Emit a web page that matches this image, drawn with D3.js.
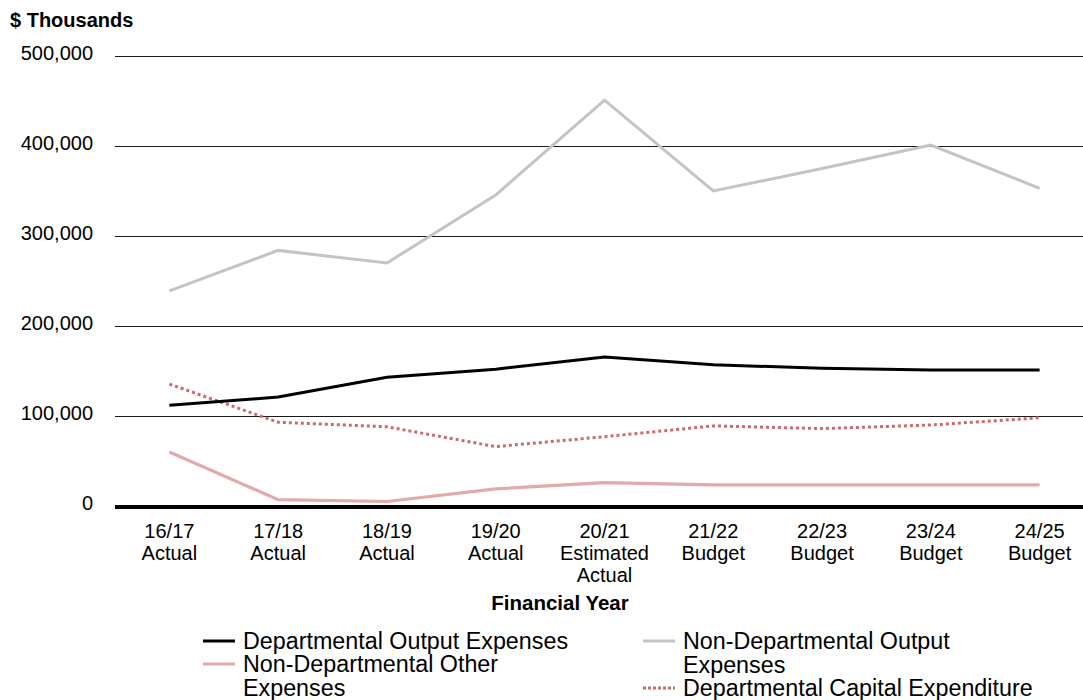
<!DOCTYPE html>
<html><head><meta charset="utf-8">
<script src="https://cdn.jsdelivr.net/npm/d3@7"></script>
<style>
body{margin:0;background:#fff;}
text{font-family:"Liberation Sans",Arial,sans-serif;fill:#000;}
</style></head>
<body><svg id="c" width="1083" height="700"></svg>
<script>
const categories = [["16/17","Actual"],["17/18","Actual"],["18/19","Actual"],["19/20","Actual"],["20/21","Estimated","Actual"],["21/22","Budget"],["22/23","Budget"],["23/24","Budget"],["24/25","Budget"]];
const catKeys = categories.map(c => c[0]);
const deptOutput = [112000,121000,143000,152000,165500,157000,153000,151000,151000];
const nonDeptOutput = [239000,284000,270000,345500,451000,350000,375000,401000,353000];
const nonDeptOther = [60000,7000,5000,19000,26000,23500,23500,23500,23500];
const deptCapital = [135500,93000,88000,66000,77000,89000,86000,90000,98000];
const yTicks = [0,100000,200000,300000,400000,500000];

const svg = d3.select("#c");
const x = d3.scaleBand().domain(catKeys).range([115,1094]);
const xc = k => x(k) + x.bandwidth()/2;
const y = d3.scaleLinear().domain([0,500000]).range([506,56]);

// gridlines
svg.append("g").selectAll("line").data(yTicks.filter(d=>d>0)).join("line")
  .attr("x1",115).attr("x2",1083).attr("y1",d=>Math.round(y(d))+0.5).attr("y2",d=>Math.round(y(d))+0.5)
  .attr("stroke","#1a1a1a").attr("stroke-width",1);
// tick labels
const fmt = d3.format(",");
svg.append("g").selectAll("text").data(yTicks).join("text")
  .attr("x",93).attr("y",d=>y(d)-3).attr("dy","0.35em").attr("text-anchor","end")
  .style("font-size","20px").text(d=>fmt(d));

svg.append("text").attr("x",10).attr("y",20).attr("dy","0.35em")
  .style("font-size","20px").style("font-weight","bold").text("$ Thousands");

// series
const series = [
  {name:"Non-Departmental Output Expenses", vals:nonDeptOutput, color:"#c4c4c4", dash:null, w:3},
  {name:"Non-Departmental Other Expenses", vals:nonDeptOther, color:"#e3aaaa", dash:null, w:3.2},
  {name:"Departmental Capital Expenditure", vals:deptCapital, color:"#d06a6a", dash:"3,3", w:3},
  {name:"Departmental Output Expenses", vals:deptOutput, color:"#000", dash:null, w:3}
];
const line = d3.line().x((d,i)=>xc(catKeys[i])).y(d=>y(d));
svg.append("g").selectAll("path").data(series).join("path")
  .attr("d",s=>line(s.vals)).attr("fill","none").attr("stroke",s=>s.color)
  .attr("stroke-width",s=>s.w).attr("stroke-dasharray",s=>s.dash);

// zero axis
svg.append("line").attr("x1",115).attr("x2",1083).attr("y1",y(0)+1).attr("y2",y(0)+1)
  .attr("stroke","#000").attr("stroke-width",4);

// x labels
const xl = svg.append("g").selectAll("text").data(categories).join("text")
  .attr("text-anchor","middle").style("font-size","20px");
xl.each(function(c){
  const t = d3.select(this);
  c.forEach((s,i)=>t.append("tspan").attr("x",xc(c[0])).attr("y",531+i*22).attr("dy","0.35em").text(s));
});
svg.append("text").attr("x",560).attr("y",603).attr("dy","0.35em").attr("text-anchor","middle")
  .style("font-size","20.5px").style("font-weight","bold").text("Financial Year");

// legend
const legend = [
  {x:203, y:641, color:"#000", dash:null, lines:["Departmental Output Expenses"]},
  {x:643, y:641, color:"#c4c4c4", dash:null, lines:["Non-Departmental Output","Expenses"]},
  {x:203, y:664, color:"#e3aaaa", dash:null, lines:["Non-Departmental Other","Expenses"]},
  {x:643, y:688, color:"#d06a6a", dash:"3,2", lines:["Departmental Capital Expenditure"]}
];
const lg = svg.append("g").selectAll("g").data(legend).join("g");
lg.append("line").attr("x1",d=>d.x).attr("x2",d=>d.x+32).attr("y1",d=>d.y).attr("y2",d=>d.y)
  .attr("stroke",d=>d.color).attr("stroke-width",3).attr("stroke-dasharray",d=>d.dash);
lg.each(function(d){
  const t = d3.select(this).append("text").style("font-size","23.3px");
  d.lines.forEach((s,i)=>t.append("tspan").attr("x",d.x+40).attr("y",d.y+i*24).attr("dy","0.35em").text(s));
});
</script></body></html>
